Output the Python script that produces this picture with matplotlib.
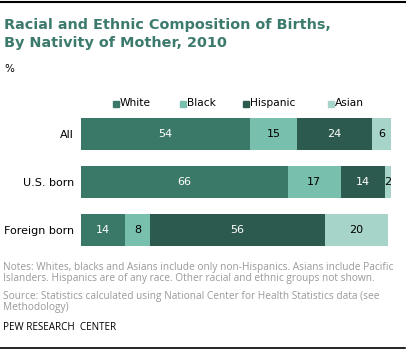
import numpy as np
import matplotlib.pyplot as plt
from matplotlib.lines import Line2D
from matplotlib.patches import Rectangle

groups = ["All", "U.S. born", "Foreign born"]
races = ["White", "Black", "Hispanic", "Asian"]
white = [54, 66, 14]
black = [15, 17, 8]
hispanic = [24, 14, 56]
asian = [6, 2, 20]

colors = ["#3a7868", "#78bfad", "#2c5a4e", "#a7d4c9"]
text_colors = ["white", "black", "white", "black"]

W, H = 409, 353
fig = plt.figure(figsize=(W / 100, H / 100), dpi=100)


def fx(px):
    return px / W


def fy(py):
    return 1 - py / H


# frame lines top and bottom
fig.add_artist(Line2D([0, fx(405)], [fy(2), fy(2)], color="black", lw=1.5))
fig.add_artist(Line2D([0, fx(405)], [fy(348), fy(348)], color="black", lw=1.2))

fig.text(fx(4), fy(25), "Racial and Ethnic Composition of Births,", color="#3b7a6c",
         fontsize=10.4, fontweight="bold", va="center", family="DejaVu Sans")
fig.text(fx(4), fy(43), "By Nativity of Mother, 2010", color="#3b7a6c",
         fontsize=10.4, fontweight="bold", va="center", family="DejaVu Sans")
fig.text(fx(4), fy(69), "%", fontsize=7.5, va="center")

ax = fig.add_axes([fx(81), fy(254), fx(394) - fx(81), (254 - 110) / H])
y = np.arange(len(groups))
series = [white, black, hispanic, asian]
left = np.zeros(len(groups))
for vals, c, tc in zip(series, colors, text_colors):
    vals = np.array(vals)
    ax.barh(y, vals, left=left, height=32 / 48, color=c, edgecolor="none")
    for yi, (l, v) in enumerate(zip(left, vals)):
        ax.text(l + v / 2, yi, str(v), ha="center", va="center", color=tc, fontsize=8)
    left = left + vals

ax.set_xlim(0, 100)
ax.set_ylim(2.5, -0.5)
ax.set_yticks(y)
ax.set_yticklabels(groups, fontsize=8)
ax.tick_params(axis="y", length=0, pad=5)
ax.set_xticks([])
for s in ax.spines.values():
    s.set_visible(False)

# legend
leg_x = [113, 180, 243, 328]
for lx, name, c in zip(leg_x, races, colors):
    fig.add_artist(Rectangle((fx(lx), fy(107)), fx(6), 6 / H, color=c,
                             transform=fig.transFigure))
    fig.text(fx(lx + 7), fy(103.5), name, fontsize=7.7, va="center")

notes = ("Notes: Whites, blacks and Asians include only non-Hispanics. Asians include Pacific\n"
         "Islanders. Hispanics are of any race. Other racial and ethnic groups not shown.")
source = ("Source: Statistics calculated using National Center for Health Statistics data (see\n"
          "Methodology)")
fig.text(fx(3), fy(262), notes, fontsize=7.3, color="#999999", va="top",
         family="Open Sans", linespacing=1.05)
fig.text(fx(3), fy(291), source, fontsize=7.3, color="#999999", va="top",
         family="Open Sans", linespacing=1.05)
fig.text(fx(3), fy(327), "PEW RESEARCH  CENTER", fontsize=7.1, color="black",
         va="center", family="Open Sans")

fig.savefig("out.png", dpi=100)
